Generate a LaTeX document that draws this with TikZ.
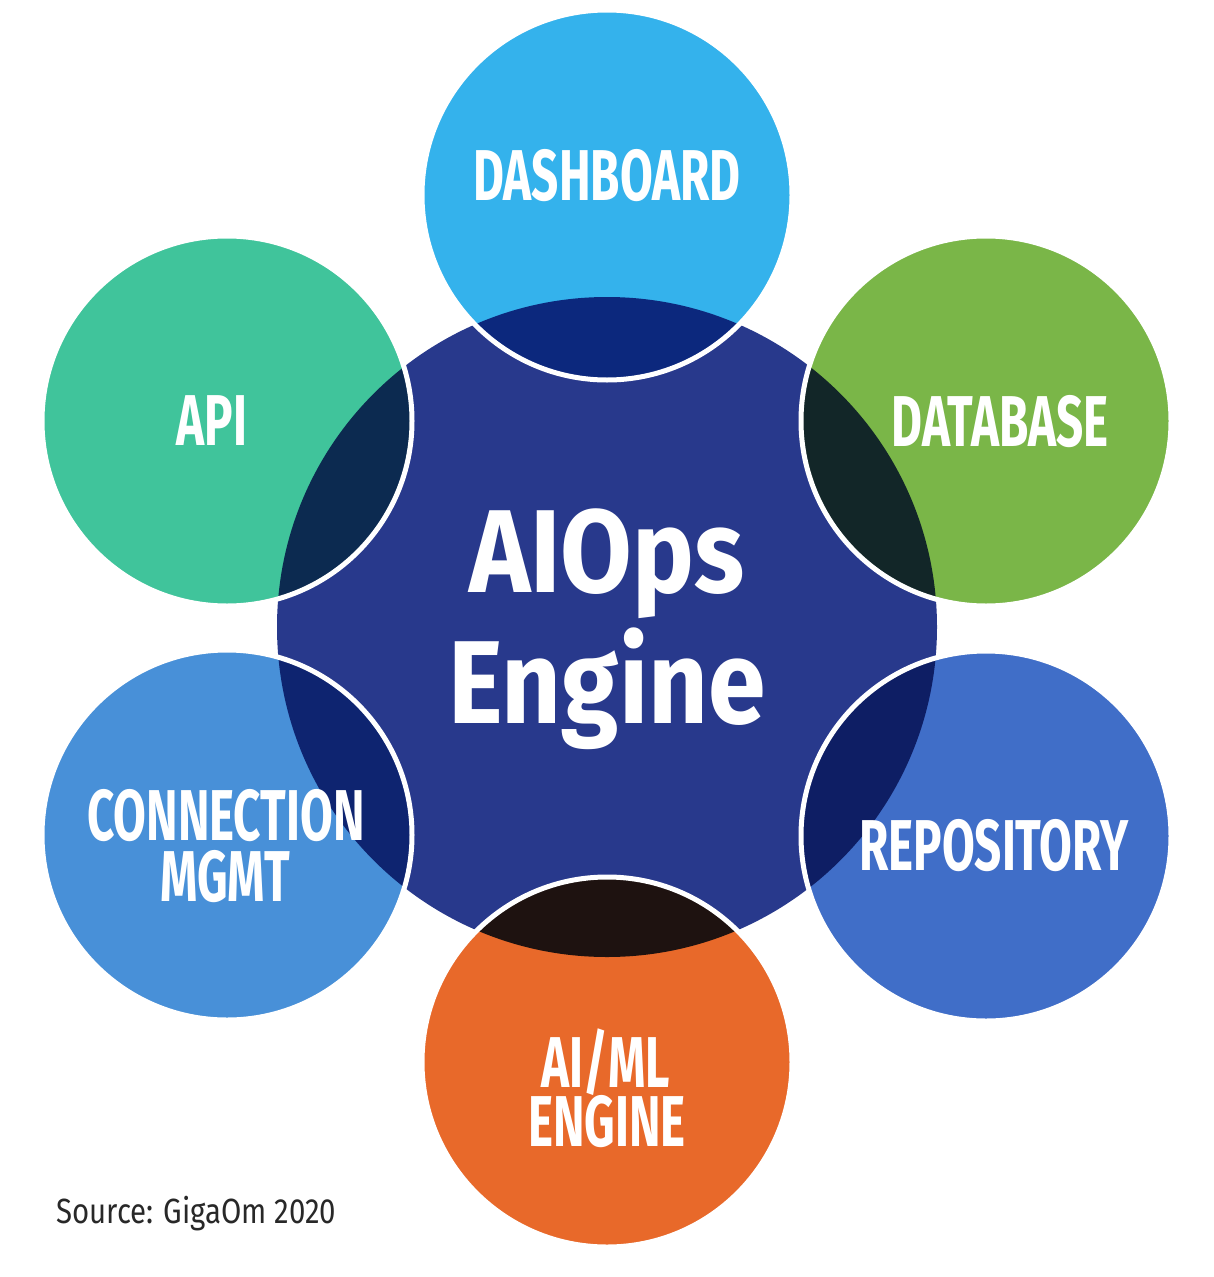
\documentclass[tikz,border=0pt]{standalone}
\usepackage{fontspec}
\setmainfont{Fira Sans}
\newfontfamily\labelfont[FakeStretch=0.66]{Fira Sans}
\newfontfamily\hubfont[FakeStretch=0.88]{Fira Sans}
\newfontfamily\notefont[FakeStretch=0.84]{Fira Sans}

% fills of the hub and the six satellites
\definecolor{hubblue}{RGB}{40,57,140}
\definecolor{dashblue}{RGB}{52,178,236}
\definecolor{apiteal}{RGB}{64,196,155}
\definecolor{dbgreen}{RGB}{122,182,72}
\definecolor{connblue}{RGB}{72,144,216}
\definecolor{repoblue}{RGB}{64,110,200}
\definecolor{mlorange}{RGB}{232,105,42}
% darker lens where a satellite lies over the hub
\definecolor{dashdark}{RGB}{12,40,125}
\definecolor{apidark}{RGB}{12,42,80}
\definecolor{dbdark}{RGB}{18,38,40}
\definecolor{conndark}{RGB}{14,36,112}
\definecolor{repodark}{RGB}{14,30,100}
\definecolor{mldark}{RGB}{30,18,16}
\definecolor{notegray}{RGB}{40,40,40}

\tikzset{
  hub/.style={circle, inner sep=0pt, minimum size=660pt, fill=hubblue},
  satellite/.style={circle, inner sep=0pt, minimum size=370pt, fill=#1},
  rim/.style={draw=white, line width=5pt},
  satlabel/.style={anchor=base, text=white, inner sep=0pt, text height=50pt, text depth=0pt,
    font=\labelfont\bfseries\fontsize{72}{72}\selectfont},
  hublabel/.style={anchor=base, text=white, inner sep=0pt, font=\hubfont\bfseries\fontsize{118}{118}\selectfont},
}

\begin{document}
\begin{tikzpicture}[x=1pt, y=-1pt]
\useasboundingbox[fill=white] (0,0) rectangle (1214,1277);

% hub
\node[hub] (hub) at (607,627) {};

% satellites
\node[satellite=dashblue] (dash) at (607,195) {};
\node[satellite=apiteal]  (api)  at (227,421) {};
\node[satellite=dbgreen]  (db)   at (986,421) {};
\node[satellite=connblue] (conn) at (227,835) {};
\node[satellite=repoblue] (repo) at (986,836) {};
\node[satellite=mlorange] (ml)   at (607,1062) {};

% overlapping lenses
\begin{scope}
  \clip (hub.center) circle (330);
  \fill[dashdark] (dash.center) circle (185);
  \fill[apidark]  (api.center)  circle (185);
  \fill[dbdark]   (db.center)   circle (185);
  \fill[conndark] (conn.center) circle (185);
  \fill[repodark] (repo.center) circle (185);
  \fill[mldark]   (ml.center)   circle (185);
\end{scope}

% white rims of the satellites
\foreach \s in {dash,api,db,conn,repo,ml}
  \draw[rim] (\s.center) circle (185);

% labels, placed on their baselines
\node[hublabel] (hubtop) at (607,592) {AIOps};
\node[hublabel] (hubbot) at (607,723) {Engine};
\node[satlabel] (dashtext) at (607,200) {DASHBOARD};
\node[satlabel] (apitext)  at (212,445) {API};
\node[satlabel] (dbtext)   at (1000,446) {DATABASE};
\node[satlabel] (conntop)  at (226,840) {CONNECTION};
\node[satlabel] (connbot)  at (225,901) {MGMT};
\node[satlabel] (repotext) at (994,870) {REPOSITORY};
\node[satlabel] (mltop)    at (606,1087) {AI/ML};
\node[satlabel] (mlbot)    at (607,1146) {ENGINE};

\node[anchor=base west, inner sep=0pt, text=notegray, font=\notefont\fontsize{35}{35}\selectfont] (source) at (56,1223) {Source: GigaOm 2020};
\end{tikzpicture}
\end{document}
